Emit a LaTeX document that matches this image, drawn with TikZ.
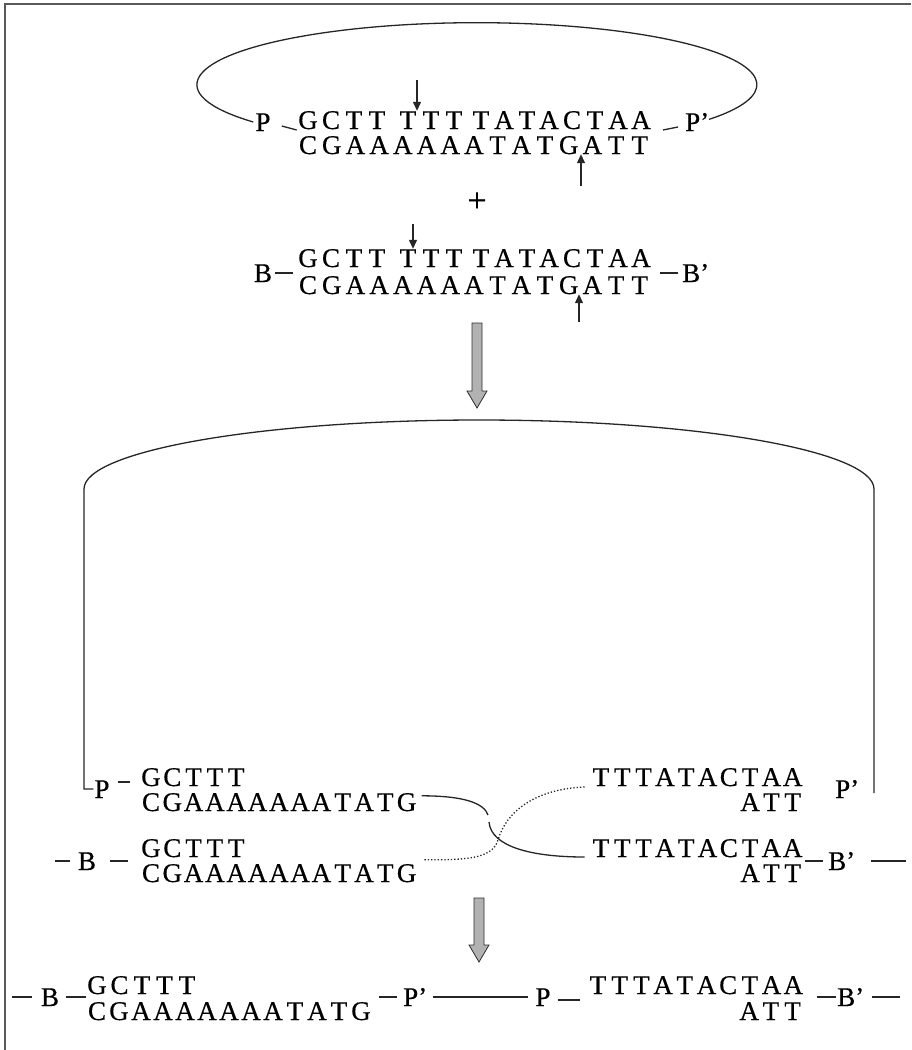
\documentclass[tikz,border=0pt]{standalone}
\usepackage{fontspec}
\setmainfont{Liberation Serif}
\newfontfamily\dnafont[FakeBold=0.5]{Liberation Serif}
\usetikzlibrary{arrows.meta,calc}

% a row of bases at a fixed pitch: name, y, first x, pitch, letters
\newcommand\seqrow[5]{%
  \foreach \ch [count=\i] in {#5} {\node[nt] (#1-\i) at ({#3+(\i-1)*#4},#2) {\ch};}}
% a row of bases at given positions: name, y, letter/x pairs
\newcommand\seqat[3]{%
  \foreach \ch/\xx [count=\i] in {#3} {\node[nt] (#1-\i) at (\xx,#2) {\ch};}}

\begin{document}
\begin{tikzpicture}[x=1pt,y=-1pt,
  nt/.style={font=\dnafont\fontsize{27}{27}\selectfont,inner sep=0pt,text height=18pt,text depth=0pt,anchor=center},
  ntw/.style={nt,anchor=west},
  bond/.style={line width=1.3pt,draw=black!85},
  cutarrow/.style={line width=1.3pt,draw=black!85,-{Triangle[length=9pt,width=8pt]}},
  bigarrow/.style={fill=gray!60,draw=gray!35!black,line width=0.8pt},
  border/.style={line width=1.6pt,draw=black!65},
]
\useasboundingbox (0,0) rectangle (911,1050);
\draw[border] (5,1050) -- (5,4) -- (911,4);

% ---------- plasmid with its target site ----------
\seqat{r1t}{120}{G/308,C/331,T/354,T/377,T/408,T/431,T/454,T/481,A/504,T/527,A/549,C/572,T/595,A/618,A/641}
\seqrow{r1b}{145}{308}{23.7}{C,G,A,A,A,A,A,A,T,A,T,G,A,T,T}
\node[nt] (P1) at (263,122) {P};
\node[ntw] (P1r) at (685,122) {P’};
\draw[bond] ([xshift=-2pt]P1.west) arc[start angle=143,end angle=394,x radius=280,y radius=62];
\draw[bond] ($(P1.east)+(11,4)$) -- ++(15,4);
\draw[bond] ($(P1r.west)+(-7,5)$) -- ++(-15,3);
\coordinate (c1) at (417,80);
\draw[cutarrow] (c1) -- (c1 |- r1t-5.north);
\coordinate (c2) at (581,186);
\draw[cutarrow] (c2) -- (c2 |- r1b-12.south);

\node[font=\dnafont\fontsize{34}{34}\selectfont,inner sep=0pt] (plus) at (477,202) {+};

% ---------- second molecule with the same site ----------
\seqat{r2t}{258}{G/308,C/331,T/354,T/377,T/408,T/431,T/454,T/481,A/504,T/527,A/549,C/572,T/595,A/618,A/641}
\seqrow{r2b}{285}{308}{23.7}{C,G,A,A,A,A,A,A,T,A,T,G,A,T,T}
\node[nt] (B2) at (263,273) {B};
\node[ntw] (B2r) at (682,273) {B’};
\draw[bond] ($(B2.east)+(3,0)$) -- ++(18,0);
\draw[bond] ($(B2r.west)+(-4,0)$) -- ++(-18,0);
\coordinate (c3) at (413,224);
\draw[cutarrow] (c3) -- (c3 |- r2t-5.north);
\coordinate (c4) at (579,322);
\draw[cutarrow] (c4) -- (c4 |- r2b-12.south);

% ---------- first step arrow ----------
\coordinate (ta1) at (477,323);
\coordinate (tb1) at (477,408);
\draw[bigarrow] ($(ta1)+(-5,0)$) -- ($(tb1)+(-5,-17)$) -- ($(tb1)+(-10,-17)$) -- (tb1)
  -- ($(tb1)+(10,-17)$) -- ($(tb1)+(5,-17)$) -- ($(ta1)+(5,0)$) -- cycle;

% ---------- cut ends, strand exchange ----------
\seqrow{r3t}{777}{151}{21.3}{G,C,T,T,T}
\seqrow{r3b}{802}{151}{21.3}{C,G,A,A,A,A,A,A,A,T,A,T,G}
\seqrow{r3tR}{777}{601}{21.3}{T,T,T,A,T,A,C,T,A,A}
\seqrow{r3bR}{802}{750.1}{21.3}{A,T,T}
\node[nt] (Pl) at (102,789) {P};
\node[ntw] (Pr) at (835,789) {P’};
\draw[bond] ($(Pl.east)+(8,-7)$) -- ++(12,0);
\coordinate (aL) at (84,489);
\coordinate (vR) at (874,793);
\draw[bond] ([xshift=-1pt]Pl.west) -| (aL)
  arc[start angle=180,end angle=360,x radius=395,y radius=69] -- (vR);

\seqrow{r4t}{848}{151}{21.3}{G,C,T,T,T}
\seqrow{r4b}{873}{151}{21.3}{C,G,A,A,A,A,A,A,A,T,A,T,G}
\seqrow{r4tR}{848}{601}{21.3}{T,T,T,A,T,A,C,T,A,A}
\seqrow{r4bR}{873}{750.1}{21.3}{A,T,T}
\coordinate (bl) at (55,861);
\node[nt] (B4) at (87,861) {B};
\node[ntw] (B4r) at (828,861) {B’};
\coordinate (br) at (906,861);
\draw[bond] (bl) -- ([xshift=-8pt]B4.west);
\draw[bond] ($(B4.east)+(14,0)$) -- ++(18,0);
\draw[bond] ($(B4r.west)+(-5,0)$) -- ++(-18,0);
\draw[bond] (br) -- ++(-35,0);

% solid strand (with its small break) and dotted strand crossing over
\coordinate (s0) at ($(r3b-13.north east)+(5,3)$);
\coordinate (g1) at (488,815);
\coordinate (g2) at (489,822);
\coordinate (s3) at ($(r4tR-1.west)+(-8,9)$);
\draw[bond] (s0) .. controls +(42,0) and +(-4,-12) .. (g1);
\draw[bond] (g2) .. controls +(2,24) and +(-55,0) .. (s3);
\coordinate (d0) at ($(r3tR-1.west)+(-8,10)$);
\coordinate (dm) at (498,840);
\coordinate (d3) at ($(r4b-13.north east)+(6,-4)$);
\draw[bond,dotted] (d0) .. controls +(-50,2) and +(8,-28) .. (dm)
  .. controls +(-6,20) and +(40,0) .. (d3);

% ---------- second step arrow ----------
\coordinate (ta2) at (479,898);
\coordinate (tb2) at (479,962);
\draw[bigarrow] ($(ta2)+(-5,0)$) -- ($(tb2)+(-5,-17)$) -- ($(tb2)+(-10,-17)$) -- (tb2)
  -- ($(tb2)+(10,-17)$) -- ($(tb2)+(5,-17)$) -- ($(ta2)+(5,0)$) -- cycle;

% ---------- recombined products ----------
\seqrow{r5t}{985}{97}{22.5}{G,C,T,T,T}
\seqrow{r5b}{1011}{97}{22}{C,G,A,A,A,A,A,A,A,T,A,T,G}
\seqrow{r5tR}{985}{598}{21.7}{T,T,T,A,T,A,C,T,A,A}
\seqrow{r5bR}{1011}{749.2}{21.7}{A,T,T}
\coordinate (fl) at (12,997);
\node[nt] (fB) at (50,997) {B};
\node[ntw] (fPr) at (403,997) {P’};
\node[nt] (fP) at (543,997) {P};
\node[ntw] (fBr) at (837,997) {B’};
\coordinate (fr) at (900,997);
\draw[bond] (fl) -- ([xshift=-9pt]fB.west);
\draw[bond] ($(fB.east)+(7,0)$) -- ++(20,0);
\draw[bond] ($(fPr.west)+(-6,0)$) -- ++(-18,0);
\draw[bond] ($(fPr.east)+(6,0)$) -- ($(fP.west)+(-7,0)$);
\draw[bond] ($(fP.east)+(7,3)$) -- ++(22,0);
\draw[bond] ($(fBr.west)+(-1,0)$) -- ++(-19,0);
\draw[bond] (fr) -- ++(-28,0);
\end{tikzpicture}
\end{document}
